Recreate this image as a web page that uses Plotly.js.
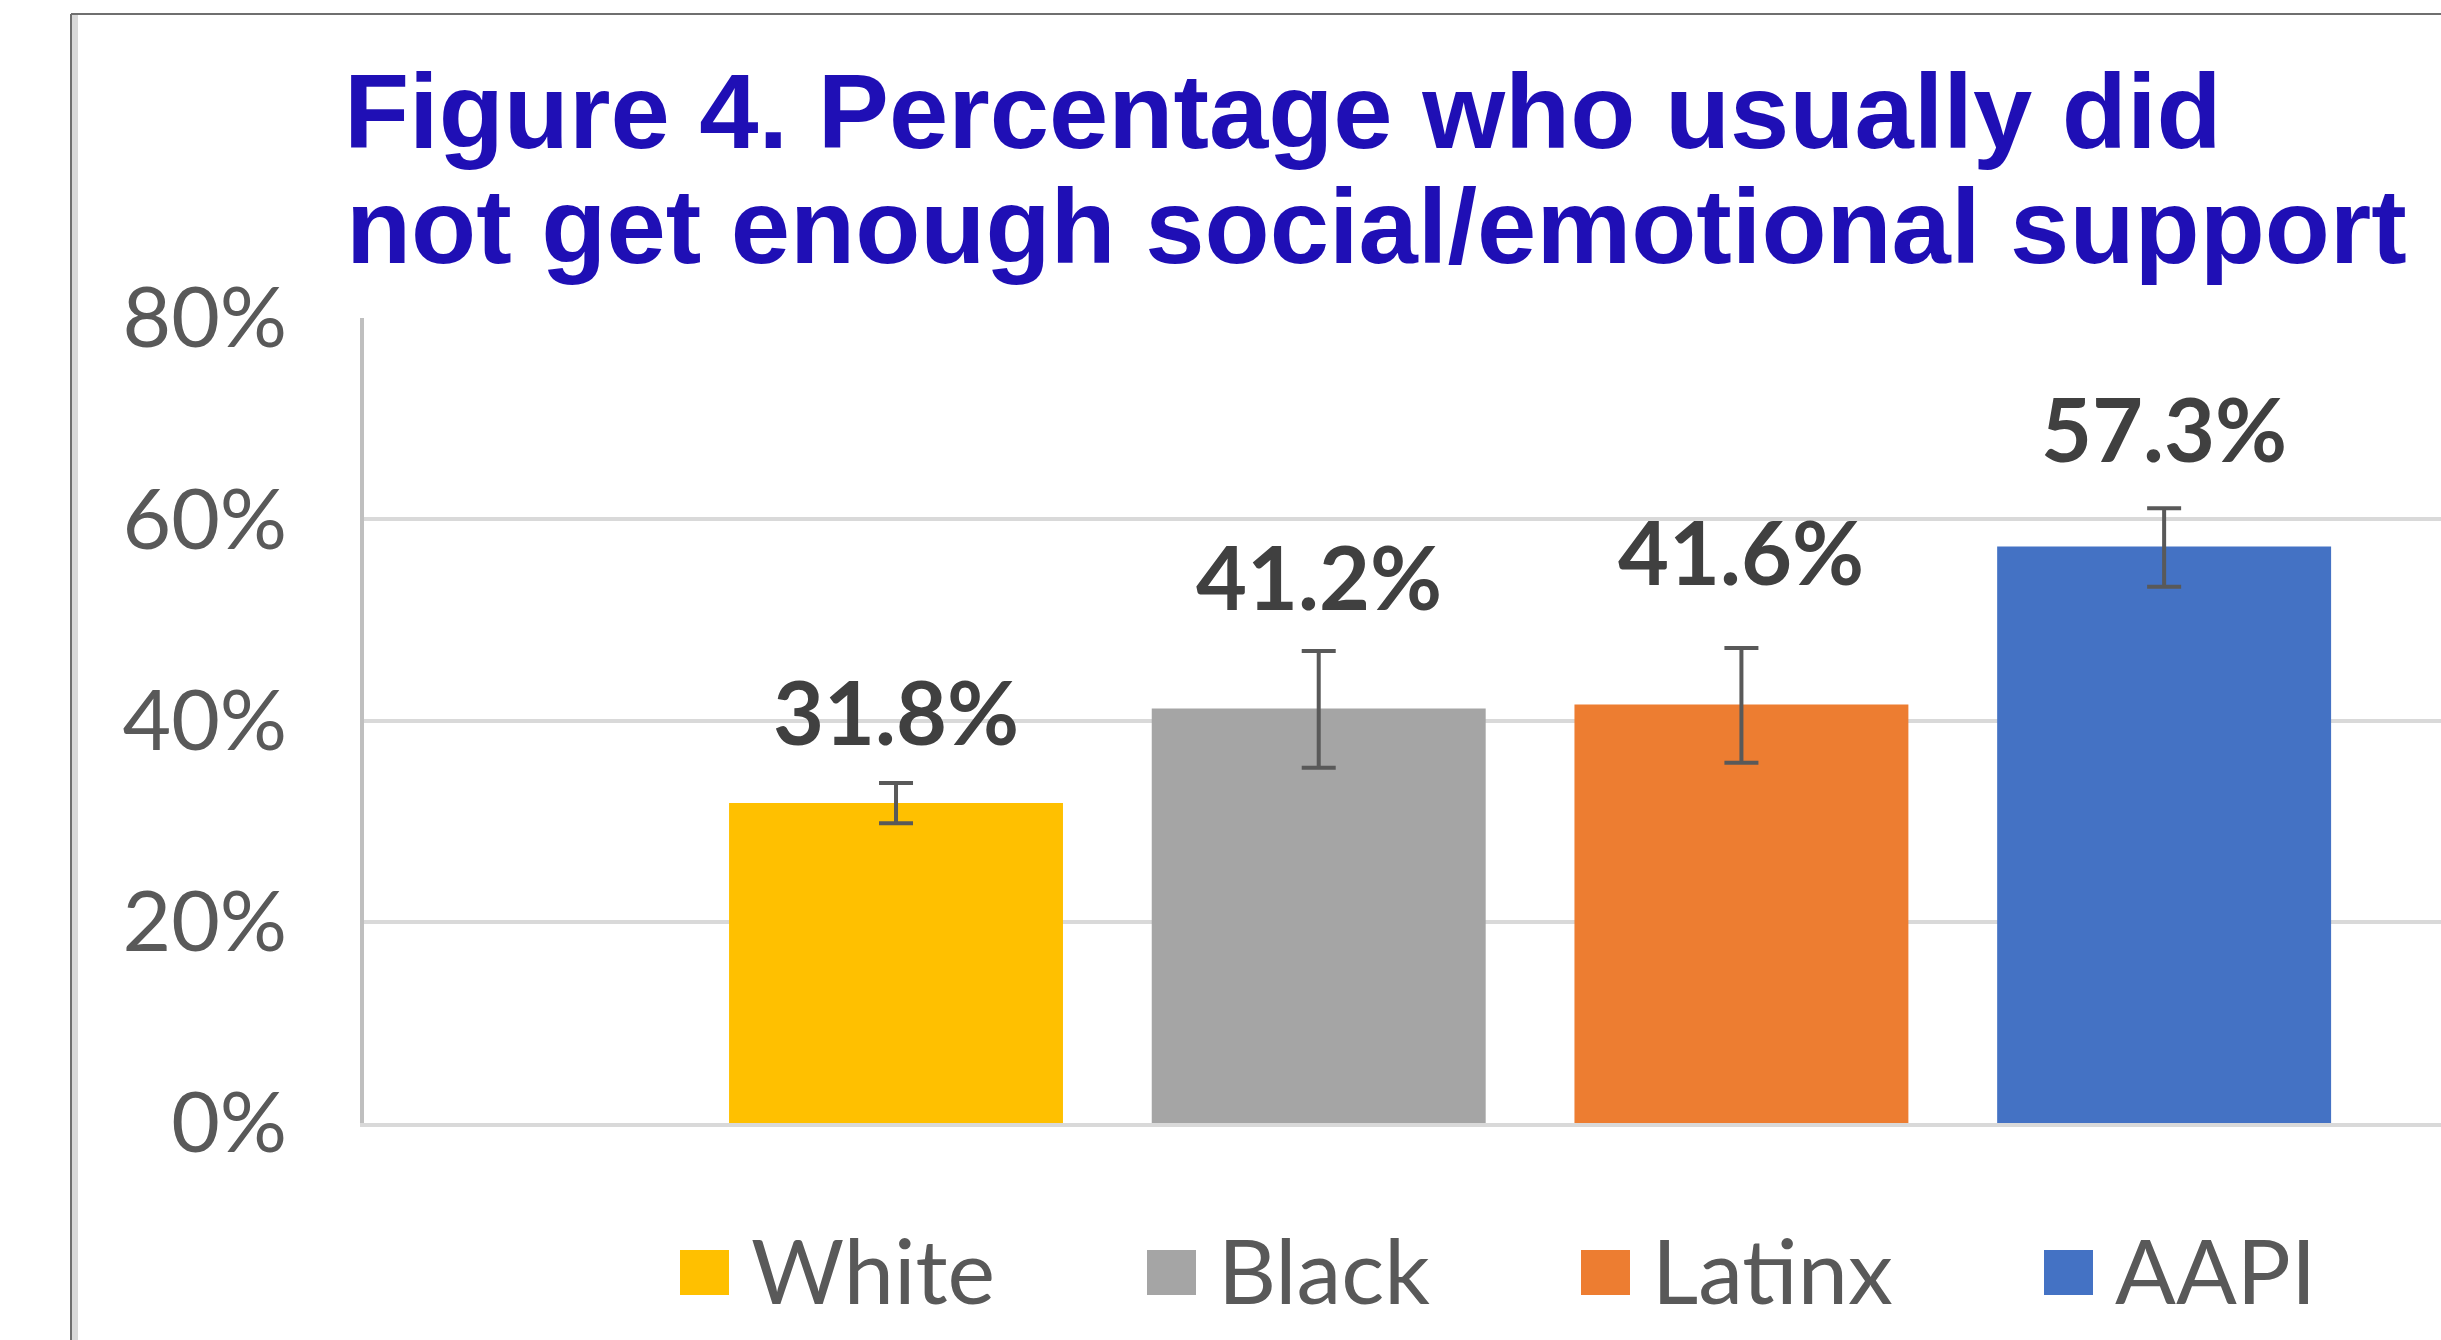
<!DOCTYPE html>
<html><head><meta charset="utf-8">
<script src="https://cdn.plot.ly/plotly-3.0.1.min.js"></script>
<style>html,body{margin:0;padding:0;background:#fff;overflow:hidden}#chart{width:2441px;height:1340px}</style>
</head><body><div id="chart"></div>
<script>
// ---- data ----
const categories = ['White', 'Black', 'Latinx', 'AAPI'];
const values = [31.8, 41.2, 41.6, 57.3];
const errPlus = [2.0, 5.7, 5.6, 3.8];
const errMinus = [2.0, 5.9, 5.8, 4.0];
const yTickVals = [0, 20, 40, 60, 80];
const yTickText = ['0%', '20%', '40%', '60%', '80%'];
const titleLines = ['Figure 4. Percentage who usually did', 'not get enough social/emotional support'];

// ---- styles / layout helpers ----
const colors = ['#FFC000', '#A5A5A5', '#ED7D31', '#4472C4'];
const W = 2441, H = 1340, ML = 364, MR = 0, MT = 318, MB = 217;
const PW = W - ML - MR, PH = H - MT - MB;
const px = x => (x - ML) / PW;
const py = y => (H - MB - y) / PH;

const labelShift = [72, 75, 97, 80];
const legendSquareX = [680, 1147, 1581, 2044];
const legendSq = 49, legendTop = 1250, legendBot = 1295, legendGap = 20;

const trace = {
  type: 'bar',
  x: categories,
  y: values,
  width: 0.79,
  marker: {color: colors},
  error_y: {type: 'data', symmetric: false, array: errPlus, arrayminus: errMinus,
            color: '#595959', thickness: 4, width: 17},
  showlegend: false,
  hoverinfo: 'skip'
};

const annotations = [];
categories.forEach((c, i) => {
  annotations.push({
    x: c, y: values[i] + errPlus[i], xref: 'x', yref: 'y',
    text: values[i].toFixed(1) + '%', showarrow: false,
    xanchor: 'center', yanchor: 'middle', yshift: labelShift[i],
    font: {family: 'Lato', size: 88, color: '#404040', weight: 700}
  });
  annotations.push({
    x: px(legendSquareX[i] + legendSq + legendGap), y: py((legendTop + legendBot) / 2 - 4),
    xref: 'paper', yref: 'paper', text: c, showarrow: false,
    xanchor: 'left', yanchor: 'middle',
    font: {family: 'Lato', size: 90, color: '#595959'}
  });
});
annotations.push({
  x: px(344), y: py(226), xref: 'paper', yref: 'paper', text: titleLines[1],
  showarrow: false, xanchor: 'left', yanchor: 'middle',
  font: {family: 'Liberation Sans, Arial', size: 106.6, color: '#1F0FB5', weight: 700}
});

const shapes = [
  {type: 'rect', xref: 'paper', yref: 'paper', x0: px(72), x1: px(78), y0: py(15), y1: py(H + 20),
   fillcolor: '#d9d9d9', line: {width: 0}, layer: 'below'},
  {type: 'line', xref: 'paper', yref: 'paper', x0: px(71), x1: px(W + 20), y0: py(14), y1: py(14),
   line: {color: '#6f6f6f', width: 2}},
  {type: 'line', xref: 'paper', yref: 'paper', x0: px(71), x1: px(71), y0: py(14), y1: py(H + 20),
   line: {color: '#6f6f6f', width: 2}}
];
categories.forEach((c, i) => {
  shapes.push({type: 'rect', xref: 'paper', yref: 'paper',
    x0: px(legendSquareX[i]), x1: px(legendSquareX[i] + legendSq),
    y0: py(legendBot), y1: py(legendTop), fillcolor: colors[i], line: {width: 0}});
});

const layout = {
  width: W, height: H,
  margin: {l: ML, r: MR, t: MT, b: MB, pad: 0},
  paper_bgcolor: '#ffffff', plot_bgcolor: '#ffffff',
  title: {text: titleLines[0], x: 344 / W, xref: 'container', xanchor: 'left',
          y: 1 - 111 / H, yref: 'container', yanchor: 'middle',
          font: {family: 'Liberation Sans, Arial', size: 106.6, color: '#1F0FB5', weight: 700}},
  xaxis: {type: 'category', range: [-1.2586, 3.655], showticklabels: false, showgrid: false,
          zeroline: false, showline: true, linecolor: '#d9d9d9', linewidth: 4, ticks: '', fixedrange: true},
  yaxis: {range: [0, 80], tickvals: yTickVals, ticktext: yTickText, showgrid: true,
          gridcolor: '#d9d9d9', gridwidth: 4, zeroline: false, showline: true,
          linecolor: '#bfbfbf', linewidth: 4, ticks: '', ticklabelstandoff: 56,
          tickfont: {family: 'Lato', size: 84, color: '#595959'}, fixedrange: true},
  showlegend: false,
  annotations: annotations,
  shapes: shapes,
  bargap: 0.21
};

Plotly.newPlot('chart', [trace], layout, {staticPlot: true});
</script>
</body></html>
